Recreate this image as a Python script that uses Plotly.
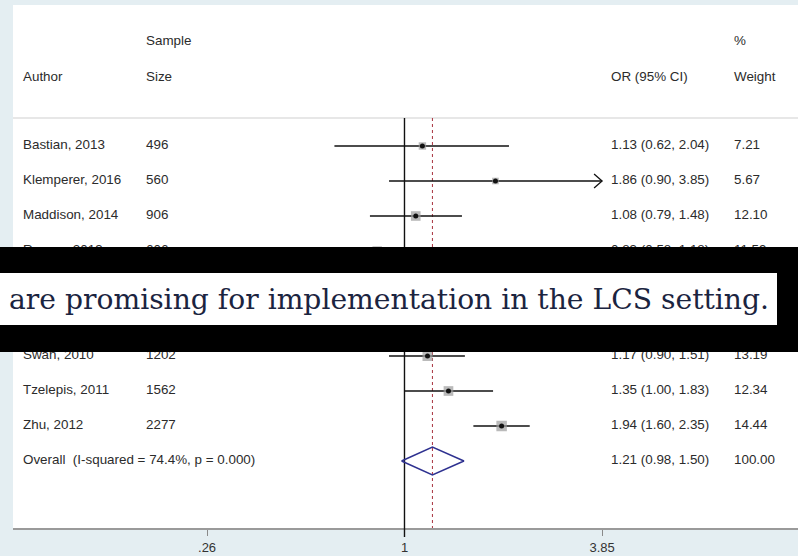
import math
import plotly.graph_objects as go

# ---- study data -------------------------------------------------------------
authors = ["Bastian, 2013", "Klemperer, 2016", "Maddison, 2014", "Ramos, 2013",
           "Swan, 2010", "Tzelepis, 2011", "Zhu, 2012"]
row_slot = [0, 1, 2, 3, 6, 7, 8]
sample_size = ["496", "560", "906", "606", "1202", "1562", "2277"]
odds_ratio = [1.13, 1.86, 1.08, 0.83, 1.17, 1.35, 1.94]
ci_low = [0.62, 0.90, 0.79, 0.58, 0.90, 1.00, 1.60]
ci_high = [2.04, 3.85, 1.48, 1.18, 1.51, 1.83, 2.35]
weight = [7.21, 5.67, 12.10, 11.59, 13.19, 12.34, 14.44]

overall_or, overall_low, overall_high = 1.21, 0.98, 1.50
overall_weight = 100.00
overall_label = "Overall  (I-squared = 74.4%, p = 0.000)"
overall_slot = 9

x_ticks = [0.26, 1, 3.85]
x_tick_labels = [".26", "1", "3.85"]
axis_max = 3.85

banner_text = "are promising for implementation in the LCS setting."

# ---- layout geometry --------------------------------------------------------
W, H = 798, 556
ML, MR, MT, MB = 13, 0, 5, 28
plot_h = H - MT - MB
row0_px, row_px = 146, 35
y_top = (row0_px - MT) / row_px
y_bot = -(H - MB - row0_px) / row_px
header_line_y = (row0_px - 118) / row_px
sample_y = (row0_px - 42) / row_px
author_y = (row0_px - 78) / row_px

def py2paper(py):
    return (H - MB - py) / plot_h

def px2paper(px):
    return (px - ML) / (W - ML - MR)

TXT = dict(family="Liberation Sans, Arial, sans-serif", size=13.4, color="#2b2b2b")

fig = go.Figure()

# null line and pooled-estimate line
fig.add_trace(go.Scatter(x=[1, 1], y=[header_line_y, y_bot], mode="lines",
                         line=dict(color="#111111", width=1.4), hoverinfo="skip"))
fig.add_trace(go.Scatter(x=[overall_or, overall_or], y=[header_line_y, y_bot], mode="lines",
                         line=dict(color="#a8323e", width=1, dash="3px,3px"), hoverinfo="skip"))

# confidence intervals (arrow where the interval runs past the axis)
cx, cy = [], []
for lo, hi, s in zip(ci_low, ci_high, row_slot):
    cx += [lo, min(hi, axis_max), None]
    cy += [-s, -s, None]
    if hi >= axis_max:
        k = math.exp(-8 / 146.6)
        cx += [axis_max * k, axis_max, axis_max * k, None]
        cy += [-s + 0.2, -s, -s - 0.2, None]
fig.add_trace(go.Scatter(x=cx, y=cy, mode="lines", line=dict(color="#111111", width=1.3),
                         hoverinfo="skip"))

# weight squares and point estimates
fig.add_trace(go.Scatter(x=odds_ratio, y=[-s for s in row_slot], mode="markers",
                         marker=dict(symbol="square", color="#9c9c9c",
                                     size=[10.5 * math.sqrt(w / max(weight)) for w in weight],
                                     line=dict(width=0)),
                         hoverinfo="skip"))
fig.add_trace(go.Scatter(x=odds_ratio, y=[-s for s in row_slot], mode="markers",
                         marker=dict(symbol="circle", color="#111111", size=5),
                         hoverinfo="skip"))

# pooled diamond
d = 0.4
fig.add_trace(go.Scatter(x=[overall_low, overall_or, overall_high, overall_or, overall_low],
                         y=[-overall_slot, -overall_slot + d, -overall_slot,
                            -overall_slot - d, -overall_slot],
                         mode="lines", line=dict(color="#2e3190", width=1.5),
                         hoverinfo="skip"))

# text columns (on a pixel-like overlay axis)
def fmt_ci(o, lo, hi):
    return f"{o:.2f} ({lo:.2f}, {hi:.2f})"

col_author, col_size, col_or, col_wt = 23, 146, 611, 734

def add_text(xs, ys, texts):
    fig.add_trace(go.Scatter(x=xs, y=ys, text=texts, mode="text", textposition="middle right",
                             textfont=TXT, xaxis="x2", yaxis="y", hoverinfo="skip",
                             cliponaxis=False))

add_text([col_size, col_wt], [sample_y, sample_y], ["Sample", "%"])
add_text([col_author, col_size, col_or, col_wt], [author_y] * 4,
         ["Author", "Size", "OR (95% CI)", "Weight"])
add_text([col_author] * len(authors), [-s for s in row_slot], authors)
add_text([col_size] * len(authors), [-s for s in row_slot], sample_size)
add_text([col_or] * len(authors), [-s for s in row_slot],
         [fmt_ci(o, l, h) for o, l, h in zip(odds_ratio, ci_low, ci_high)])
add_text([col_wt] * len(authors), [-s for s in row_slot], [f"{w:.2f}" for w in weight])
add_text([col_author, col_or, col_wt], [-overall_slot] * 3,
         [overall_label, fmt_ci(overall_or, overall_low, overall_high), f"{overall_weight:.2f}"])

shapes = [
    # header rule
    dict(type="line", xref="paper", yref="y", x0=0, x1=1, y0=header_line_y, y1=header_line_y,
         line=dict(color="#cfcfcf", width=1.2), layer="below"),
    # null line runs through the axis
    dict(type="line", xref="x", yref="paper", x0=1, x1=1, y0=-9 / plot_h, y1=0,
         line=dict(color="#111111", width=1.4), layer="above"),
    # caption banner
    dict(type="rect", xref="paper", yref="paper", x0=px2paper(0), x1=px2paper(W),
         y0=py2paper(352), y1=py2paper(247), fillcolor="#000000", line=dict(width=0),
         layer="above"),
    dict(type="rect", xref="paper", yref="paper", x0=px2paper(0), x1=px2paper(777),
         y0=py2paper(325), y1=py2paper(273), fillcolor="#ffffff", line=dict(width=0),
         layer="above"),
]

fig.update_layout(
    width=W, height=H,
    margin=dict(l=ML, r=MR, t=MT, b=MB),
    paper_bgcolor="#e4eef2", plot_bgcolor="#ffffff",
    showlegend=False,
    xaxis=dict(type="log", range=[-1.160, 1.166], tickvals=x_ticks, ticktext=x_tick_labels,
               ticks="outside", ticklen=6, tickwidth=1.4, tickcolor="#8a8a8a",
               showline=True, linecolor="#9a9a9a", linewidth=2, showgrid=False,
               zeroline=False, tickfont=dict(family=TXT["family"], size=13, color="#333333"),
               fixedrange=True),
    xaxis2=dict(range=[ML, W], overlaying="x", visible=False, fixedrange=True),
    yaxis=dict(range=[y_bot, y_top], visible=False, fixedrange=True),
    shapes=shapes,
    annotations=[dict(text=banner_text, xref="paper", yref="paper", x=px2paper(7),
                      y=py2paper(299), xanchor="left", yanchor="middle", showarrow=False,
                      font=dict(family="DejaVu Serif, serif", size=28.2, color="#1b2440"))],
)

fig.write_html("out.html", config={"displayModeBar": False})
